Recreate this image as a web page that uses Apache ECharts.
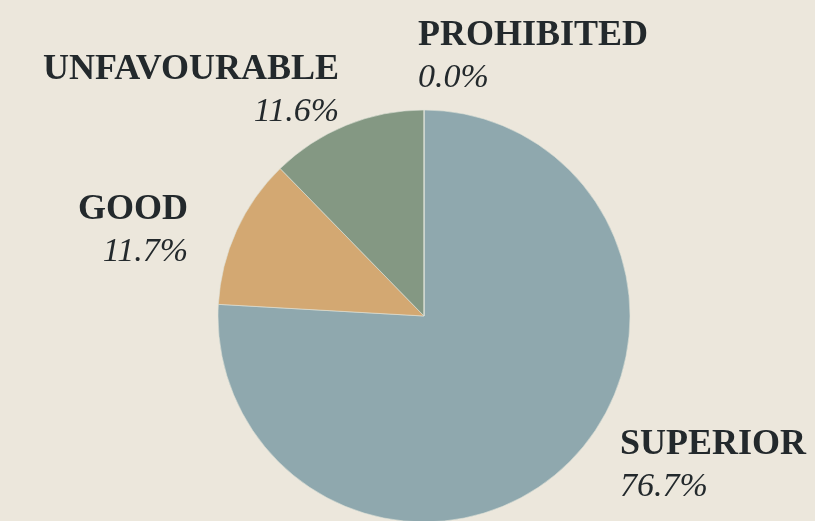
<!DOCTYPE html>
<html>
<head>
<meta charset="utf-8">
<script src="https://cdn.jsdelivr.net/npm/echarts@6/dist/echarts.min.js"></script>
<style>
html,body{margin:0;padding:0;background:#ece7dc;}
#chart{width:815px;height:521px;}
</style>
</head>
<body>
<div id="chart"></div>
<script>
const categories = ['SUPERIOR', 'GOOD', 'UNFAVOURABLE', 'PROHIBITED'];
// slice sizes as drawn in the picture
const values = [75.9, 11.8, 12.3, 0.0];
// percentages printed on the labels
const pctLabels = ['76.7%', '11.7%', '11.6%', '0.0%'];
const colors = ['#8fa8ae', '#d3a872', '#849883', '#8fa8ae'];
// label anchor positions (text, not marks)
const labelPos = [
  {x: 620, y: 425, align: 'left'},
  {x: 188, y: 190, align: 'right'},
  {x: 339, y: 50, align: 'right'},
  {x: 418, y: 16, align: 'left'}
];

const chart = echarts.init(document.getElementById('chart'));
chart.setOption({
  backgroundColor: '#ece7dc',
  animation: false,
  series: [{
    type: 'pie',
    center: [424, 316],
    radius: [0, 206],
    startAngle: 90,
    clockwise: true,
    stillShowZeroSum: true,
    avoidLabelOverlap: false,
    itemStyle: {borderColor: '#dfe2d8', borderWidth: 0.6},
    label: {
      show: true,
      position: 'outside',
      formatter: p => '{n|' + p.name + '}\n{p|' + pctLabels[p.dataIndex] + '}',
      rich: {
        n: {fontFamily: 'Liberation Serif', fontWeight: 'bold', fontSize: 36, color: '#23292c', lineHeight: 40},
        p: {fontFamily: 'Liberation Serif', fontStyle: 'italic', fontSize: 34, color: '#23292c', lineHeight: 44}
      }
    },
    labelLine: {show: false},
    labelLayout: function (params) {
      const lp = labelPos[params.dataIndex];
      return {x: lp.x, y: lp.y, align: lp.align, verticalAlign: 'top', hideOverlap: false};
    },
    emphasis: {disabled: true},
    data: categories.map((c, i) => ({name: c, value: values[i], itemStyle: {color: colors[i]}}))
  }]
});
</script>
</body>
</html>
